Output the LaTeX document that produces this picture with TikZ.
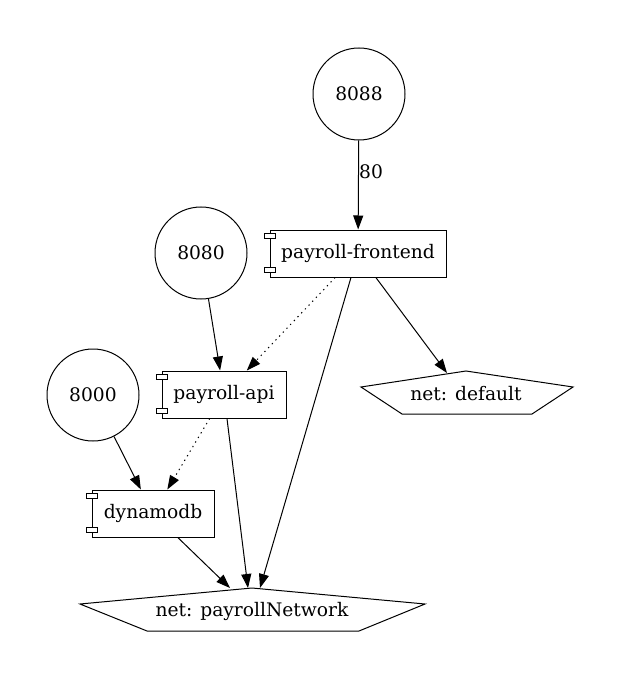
\documentclass[tikz,border=0pt]{standalone}
\usepackage{fontspec}
\setmainfont{DejaVu Serif}
\usetikzlibrary{arrows.meta,calc}
\begin{document}
\begin{tikzpicture}[x=0.75pt,y=-0.75pt,line width=0.75pt,
  font=\fontsize{14pt}{16pt}\selectfont,
  >={Triangle[length=10.5pt,width=7.5pt]},
  port/.style={draw,circle,inner sep=0pt,minimum size=69pt},
  comp/.style={draw,rectangle,inner sep=0pt,minimum height=35.25pt},
  netlabel/.style={inner sep=0pt},
  link/.style={->},
  dep/.style={->,dash pattern=on 1pt off 3pt}]
\useasboundingbox (0,0) rectangle (621,684);
% ports
\node[port] (p8088) at (359,94) {8088};
\node[port] (p8080) at (201,253) {8080};
\node[port] (p8000) at (93,395) {8000};
% components
\node[comp,minimum width=132pt] (frontend) at (358,253.5) {payroll-frontend};
\node[comp,minimum width=93pt] (api) at (224,394.5) {payroll-api};
\node[comp,minimum width=91.5pt] (dynamo) at (153,513.5) {dynamodb};
\foreach \n in {frontend,api,dynamo}{
  \draw[fill=white] ($(\n.north west)+(-5,4)$) rectangle ++(11,5);
  \draw[fill=white] ($(\n.south west)+(-5,-10)$) rectangle ++(11,5);
}
% networks
\draw (466,371) -- (573,387) -- (532,414) -- (402,414) -- (361,387) -- cycle;
\node[netlabel] (netdefault) at (466,394) {net: default};
\draw (252,588) -- (425,604) -- (359,631) -- (147,631) -- (80,604) -- cycle;
\node[netlabel] (netpayroll) at (252,611) {net: payrollNetwork};
\coordinate (ndIn) at (447,373);
\coordinate (npA) at (260,588);
\coordinate (npB) at (248,588);
\coordinate (npC) at (230,588);
% edges
\draw[link] (p8088) -- (frontend);
\node[inner sep=0pt] (lbl80) at (371,172) {80};
\draw[link] (p8080) -- (api);
\draw[link] (p8000) -- (dynamo);
\draw[dep] (frontend) -- (api);
\draw[dep] (api) -- (dynamo);
\draw[link] (frontend) -- (ndIn);
\draw[link] (frontend) -- (npA);
\draw[link] (api) -- (npB);
\draw[link] (dynamo) -- (npC);
\end{tikzpicture}
\end{document}
